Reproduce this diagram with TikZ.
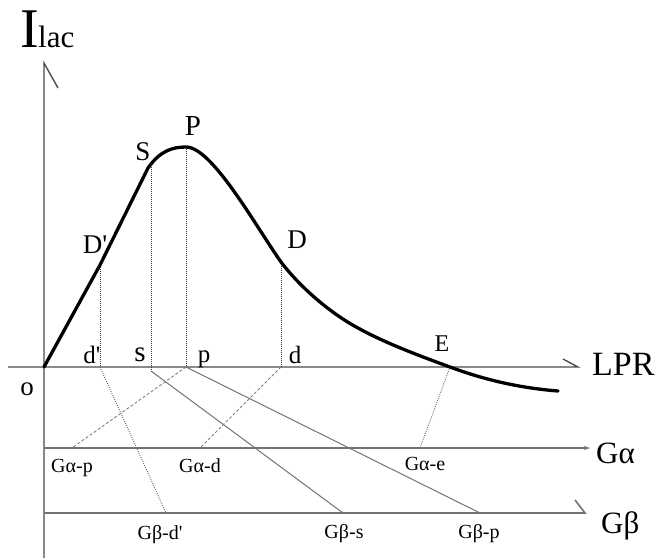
\documentclass[tikz,border=0pt]{standalone}
\usepackage{fontspec}
\setmainfont{Liberation Serif}
\usetikzlibrary{arrows.meta}
\begin{document}
\begin{tikzpicture}[x=1pt,y=-1pt,
  axisline/.style={draw=black!70,line width=1.4pt},
  gline/.style={draw=black!55,line width=1.6pt},
  curveline/.style={draw=black,line width=3.3pt,line join=round,line cap=round},
  dropline/.style={draw=black!80,line width=0.9pt,dash pattern=on 0.9pt off 1.1pt},
  conn/.style={draw=black!55,line width=1pt},
  connd/.style={draw=black!50,line width=0.9pt,dash pattern=on 3pt off 2pt},
  conndot/.style={draw=black!60,line width=0.9pt,dash pattern=on 0.9pt off 1.3pt},
  lbl/.style={inner sep=0pt,anchor=base},
  f20/.style={font=\fontsize{20}{20}\selectfont},
  f27/.style={font=\fontsize{27}{27}\selectfont},
]
\useasboundingbox (0,0) rectangle (661,558);
% axes
\coordinate (O) at (44,367);
\coordinate (ytop) at (44,63);
\coordinate (ybot) at (44,558);
\coordinate (xl) at (8,367);
\coordinate (xr) at (578,367);
\coordinate (ytick) at (58,88);
\coordinate (xtick) at (563,359);
\draw[axisline] (ybot) -- (ytop) -- (ytick);
\draw[axisline] (xl) -- (xr) -- (xtick);
% G lines
\coordinate (ga0) at (44,448);
\coordinate (ga1) at (590,448);
\coordinate (gb0) at (44,513);
\coordinate (gb1) at (585,513);
\coordinate (gbtick) at (575,500);
\draw[gline,-{Stealth[length=6pt,width=4pt]}] (ga0) -- (ga1);
\draw[gline] (gb0) -- (gb1) -- (gbtick);
% curve points
\coordinate (Dpc) at (100,265);
\coordinate (Sc) at (151,163);
\coordinate (Pc) at (186,147);
\coordinate (Dc) at (281,262);
% axis points
\coordinate (dpa) at (100,367);
\coordinate (sa) at (151,371);
\coordinate (pa) at (186,367);
\coordinate (da) at (281,367);
\coordinate (Ea) at (450,367);
% G points
\coordinate (gap) at (72,448);
\coordinate (gad) at (200,448);
\coordinate (gae) at (420,448);
\coordinate (gbd) at (166,513);
\coordinate (gbs) at (343,513);
\coordinate (gbp) at (480,513);
% drop lines
\draw[dropline] (Dpc) -- (dpa);
\draw[dropline] (Sc) -- (sa);
\draw[dropline] (Pc) -- (pa);
\draw[dropline] (Dc) -- (da);
% connectors
\draw[conndot] (dpa) -- (gbd);
\draw[connd] (pa) -- (gap);
\draw[conn] (sa) -- (gbs);
\draw[conn] (pa) -- (gbp);
\draw[connd] (da) -- (gad);
\draw[conndot] (Ea) -- (gae);
% curve
\draw[curveline] (O) -- (Dpc) -- (148,168)
  .. controls (160,151) and (172,147) .. (Pc)
  .. controls (212,147) and (255,225) .. (Dc)
  .. controls (300,287) and (330,313) .. (358,328)
  .. controls (385,343) and (420,356) .. (Ea)
  .. controls (485,380) and (520,388) .. (558,391);
% labels
\node[lbl,anchor=base west,font=\fontsize{56}{56}\selectfont] (tI) at (20,47) {I};
\node[lbl,anchor=base west,font=\fontsize{31}{31}\selectfont] (tlac) at (38,47) {lac};
\node[lbl,f27] (tS) at (143,160) {S};
\node[lbl,font=\fontsize{29}{29}\selectfont] (tP) at (193,135) {P};
\node[lbl,f27] (tDp) at (95,253) {D\textquotesingle};
\node[lbl,f27] (tD) at (297,248) {D};
\node[lbl,font=\fontsize{24}{24}\selectfont] (tE) at (442,351) {E};
\node[lbl,font=\fontsize{25}{25}\selectfont] (tdp) at (92,363) {d\textquotesingle};
\node[lbl,font=\fontsize{29}{29}\selectfont] (ts) at (140,361) {s};
\node[lbl,font=\fontsize{25}{25}\selectfont] (tp) at (204,362) {p};
\node[lbl,font=\fontsize{25}{25}\selectfont] (td) at (295,363) {d};
\node[lbl,font=\fontsize{27}{27}\selectfont] (to) at (27,395) {o};
\node[lbl,anchor=base west,font=\fontsize{34}{34}\selectfont] (tLPR) at (592,375) {LPR};
\node[lbl,anchor=base west,font=\fontsize{31}{31}\selectfont] (tGa) at (596,463) {Gα};
\node[lbl,anchor=base west,font=\fontsize{31}{31}\selectfont] (tGb) at (601,533) {Gβ};
\node[lbl,f20] (tgap) at (72,472) {Gα-p};
\node[lbl,f20] (tgad) at (200,472) {Gα-d};
\node[lbl,f20] (tgae) at (425,470) {Gα-e};
\node[lbl,f20] (tgbd) at (160,539) {Gβ-d\textquotesingle};
\node[lbl,f20] (tgbs) at (344,538) {Gβ-s};
\node[lbl,f20] (tgbp) at (479,538) {Gβ-p};
\end{tikzpicture}
\end{document}
